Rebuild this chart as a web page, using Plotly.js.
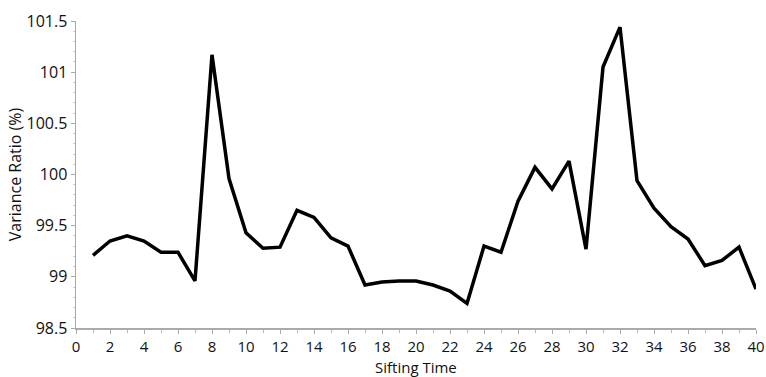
<!DOCTYPE html>
<html>
<head>
<meta charset="utf-8">
<script src="https://cdn.plot.ly/plotly-3.0.1.min.js"></script>
<style>html,body{margin:0;padding:0;background:#fff;}#chart{width:766px;height:377px;}</style>
</head>
<body>
<div id="chart"></div>
<script>
const siftingTime = [1,2,3,4,5,6,7,8,9,10,11,12,13,14,15,16,17,18,19,20,21,22,23,24,25,26,27,28,29,30,31,32,33,34,35,36,37,38,39,40];
const varianceRatio = [99.21,99.35,99.40,99.35,99.24,99.24,98.96,101.17,99.96,99.43,99.28,99.29,99.65,99.58,99.38,99.30,98.92,98.95,98.96,98.96,98.92,98.86,98.74,99.30,99.24,99.74,100.07,99.86,100.13,99.27,101.05,101.44,99.94,99.67,99.49,99.37,99.11,99.16,99.29,98.88];
const yTickVals = [98.5,99,99.5,100,100.5,101,101.5];
const yTickText = ['98.5','99','99.5','100','100.5','101','101.5'];
const xTitle = 'Sifting Time';
const yTitle = 'Variance Ratio (%)';

const trace = {
  x: siftingTime, y: varianceRatio, type: 'scatter', mode: 'lines',
  line: {color: '#000', width: 3.5}, hoverinfo: 'skip'
};
const font = {family: 'Open Sans, Noto Sans, sans-serif', color: '#111', size: 16};
const layout = {
  width: 766, height: 377,
  margin: {l: 76, r: 10, t: 21, b: 49},
  paper_bgcolor: '#fff', plot_bgcolor: '#fff',
  showlegend: false,
  font: font,
  xaxis: {
    range: [0, 40], tickmode: 'linear', tick0: 0, dtick: 2,
    showgrid: false, zeroline: false, showline: true, linecolor: '#aaa', linewidth: 1.5,
    ticks: 'outside', ticklen: 4, tickcolor: '#aaa', tickwidth: 1,
    minor: {dtick: 1, ticks: 'outside', ticklen: 3, tickcolor: '#bbb'},
    tickfont: {size: 15}, fixedrange: true, automargin: false
  },
  yaxis: {
    range: [98.5, 101.5], tickvals: yTickVals, ticktext: yTickText,
    showgrid: false, zeroline: false, showline: true, linecolor: '#aaa', linewidth: 1.5,
    ticks: 'outside', ticklen: 4, tickcolor: '#aaa', tickwidth: 1,
    minor: {dtick: 0.1, ticks: 'outside', ticklen: 2, tickcolor: '#ccc'},
    tickfont: {size: 16}, fixedrange: true, automargin: false,
    title: {text: yTitle, font: {size: 16}, standoff: 1}
  },
  annotations: [{
    text: xTitle, xref: 'paper', yref: 'paper', x: 0.5, y: 0, yshift: -39,
    xanchor: 'center', yanchor: 'middle', showarrow: false, borderpad: 0,
    font: {size: 15}
  }]
};
Plotly.newPlot('chart', [trace], layout, {staticPlot: true, displayModeBar: false});
</script>
</body>
</html>
